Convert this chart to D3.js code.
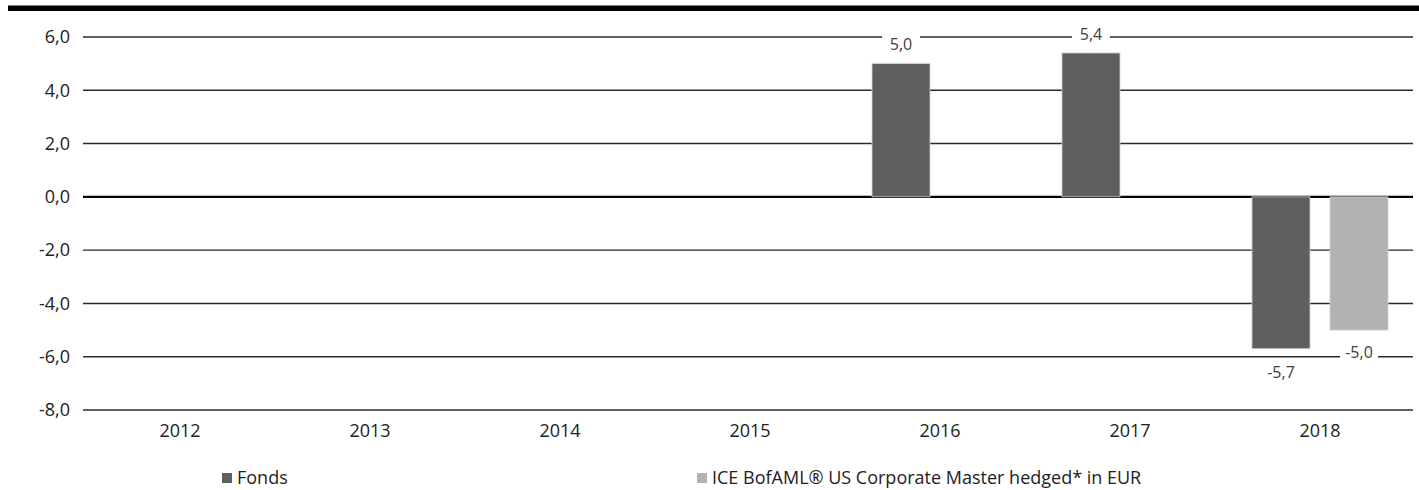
<!DOCTYPE html>
<html><head><meta charset="utf-8">
<script src="https://cdn.jsdelivr.net/npm/d3@7"></script>
<style>body{margin:0;background:#fff;} svg{display:block;font-family:"Open Sans","Noto Sans",sans-serif;}</style>
</head><body><svg id="c" width="1419" height="490"></svg>
<script>
const years = ["2012","2013","2014","2015","2016","2017","2018"];
const seriesNames = ["Fonds","ICE BofAML® US Corporate Master hedged* in EUR"];
const fondsValues = [null,null,null,null,5.0,5.4,-5.7];
const benchValues = [null,null,null,null,null,null,-5.0];
const yTicks = [6,4,2,0,-2,-4,-6,-8];
const colors = ["#5f5f5d","#b2b2b2"];

const svg = d3.select("#c");
const x = d3.scaleBand().domain(years).range([85,1415]).padding(0);
const xi = d3.scaleBand().domain([0,1]).range([0,x.bandwidth()]).paddingInner(0.2564).paddingOuter(0.346);
const y = d3.scaleLinear().domain([-8,6]).range([410,37]);
const fmt = v => d3.format(".1f")(v).replace(".",",").replace("−","-");
const FF = '"Open Sans","Noto Sans",sans-serif';

// top bar
svg.append("rect").attr("x",8).attr("y",5.5).attr("width",1411).attr("height",5.5).attr("fill","#000");

// y axis labels
const yAxis = d3.axisLeft(y).tickValues(yTicks).tickSize(0).tickPadding(13).tickFormat(fmt);
const ga = svg.append("g").attr("transform","translate(83,0)").call(yAxis).attr("font-family",FF).attr("font-size",18);
ga.select(".domain").remove();
ga.selectAll("text").attr("fill","#222");
// gridlines
svg.append("g").selectAll("line").data(yTicks).join("line")
  .attr("x1",83).attr("x2",1413).attr("y1",d=>y(d)).attr("y2",d=>y(d))
  .attr("stroke",d=>d===0?"#000":"#2a2a2a").attr("stroke-width",d=>d===0?2.2:1.4);

// x labels
const xa = svg.append("g").attr("transform","translate(0,410)").call(d3.axisBottom(x).tickSize(0).tickPadding(14)).attr("font-family",FF).attr("font-size",18);
xa.select(".domain").remove();
xa.selectAll("text").attr("fill","#222");

// bars
const data = [];
years.forEach((yr,i)=>{
  [fondsValues[i],benchValues[i]].forEach((v,s)=>{ if(v!==null) data.push({yr,s,v}); });
});
svg.append("g").selectAll("rect").data(data).join("rect")
  .attr("x",d=>x(d.yr)+xi(d.s)).attr("width",xi.bandwidth())
  .attr("y",d=>y(Math.max(0,d.v))).attr("height",d=>Math.abs(y(d.v)-y(0)))
  .attr("fill",d=>colors[d.s]).attr("stroke","#d0d0d0").attr("stroke-width",0.8);

// labels
const lg = svg.append("g").selectAll("g").data(data).join("g")
  .attr("transform",d=>{
    const cx = x(d.yr)+xi(d.s)+xi.bandwidth()/2;
    const cy = d.v>=0 ? y(d.v)-19 : y(d.v)+ (d.s===0?24:22);
    return `translate(${cx},${cy})`;
  });
lg.append("rect").attr("x",-19).attr("y",-10).attr("width",38).attr("height",20).attr("fill","#fff");
lg.append("text").attr("text-anchor","middle").attr("dy","0.35em").attr("font-size",16).attr("fill","#404040").text(d=>fmt(d.v));

// legend
const legX = [222,697];
const leg = svg.append("g").selectAll("g").data(seriesNames).join("g")
  .attr("transform",(d,i)=>`translate(${legX[i]},473)`);
leg.append("rect").attr("width",10).attr("height",10).attr("fill",(d,i)=>colors[i]);
leg.append("text").attr("x",15).attr("y",5).attr("dy","0.35em").attr("font-size",18).attr("fill","#222").text(d=>d);
</script></body></html>
